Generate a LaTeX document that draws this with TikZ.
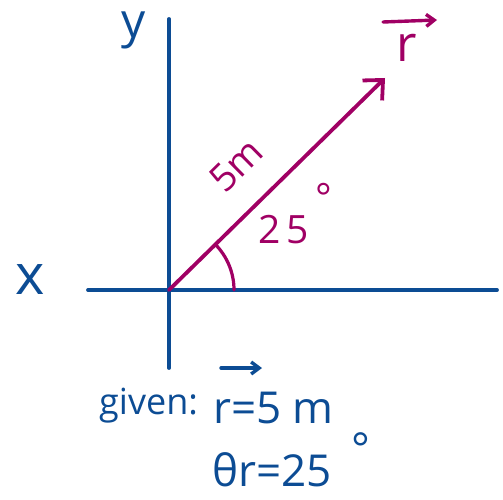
\documentclass[tikz,border=0pt]{standalone}
\usepackage{fontspec}
\setmainfont{Open Sans}
\usepackage{tikz}
\usetikzlibrary{arrows.meta, positioning, calc}
\definecolor{axisblue}{RGB}{12,76,148}
\definecolor{vecplum}{RGB}{160,0,100}

\begin{document}
\begin{tikzpicture}[x=1pt, y=-1pt,
  axis/.style  = {line width=3.8pt, axisblue, line cap=round},
  vec/.style   = {line width=3.8pt, vecplum, line cap=round,
                  -{Straight Barb[length=15pt, width=28pt, line width=3.8pt]}},
  hat/.style   = {line width=3.4pt, line cap=round,
                  -{Straight Barb[length=8pt, width=12pt, line width=3.4pt]}},
  arcline/.style = {line width=3.2pt, vecplum, line cap=round},
  blab/.style  = {axisblue, inner sep=0pt},
  plab/.style  = {vecplum, inner sep=0pt},
]
\useasboundingbox (0,0) rectangle (503,500);

% ── Axes ──────────────────────────────────────────────────────────────────────
\coordinate (O)     at (169,290);
\coordinate (xleft) at (88,290);
\coordinate (xright)at (497,290);
\coordinate (ytop)  at (169,19);
\coordinate (ybot)  at (169,368);
\draw[axis] (xleft) -- (xright);
\draw[axis] (ytop)  -- (ybot);

\node[blab, font=\fontsize{56}{58}\selectfont] (xlab) at (30,280) {x};
\node[blab, font=\fontsize{48}{50}\selectfont] (ylab) at (134,30) {y};

% ── Position vector ───────────────────────────────────────────────────────────
\coordinate (tip) at (385,78);
\draw[vec] (O) -- (tip);
\draw[arcline] ($(O)+(65,0)$) arc[start angle=0, end angle=-44.6, radius=65];

\node[plab, font=\fontsize{50}{52}\selectfont] (rlab) at (407,48) {r};
\coordinate (rhatA) at (383,22);
\coordinate (rhatB) at (437,20);
\draw[hat, vecplum] (rhatA) -- (rhatB);

\node[plab, font=\fontsize{38}{40}\selectfont, rotate=44.6] (mag) at (236,165) {5m};
\node[plab, font=\fontsize{39}{41}\selectfont, anchor=base west] (ang) at (258,243)
  {2\,5\smash{\raisebox{0.8em}{\,°}}};

% ── Given values ──────────────────────────────────────────────────────────────
\node[blab, font=\fontsize{36}{38}\selectfont, anchor=base west] (given) at (99,414) {given:};
\node[blab, font=\fontsize{44}{46}\selectfont, anchor=base west] (rmag) at (213,423) {r=5 m};
\coordinate (ghatA) at (221,368);
\coordinate (ghatB) at (262,368);
\draw[hat, axisblue] (ghatA) -- (ghatB);
\node[blab, font=\fontsize{44}{46}\selectfont, anchor=base west] (theta) at (212,486)
  {θr=25\raisebox{0.5em}{\hspace{0.45em}°}};

\end{tikzpicture}
\end{document}
